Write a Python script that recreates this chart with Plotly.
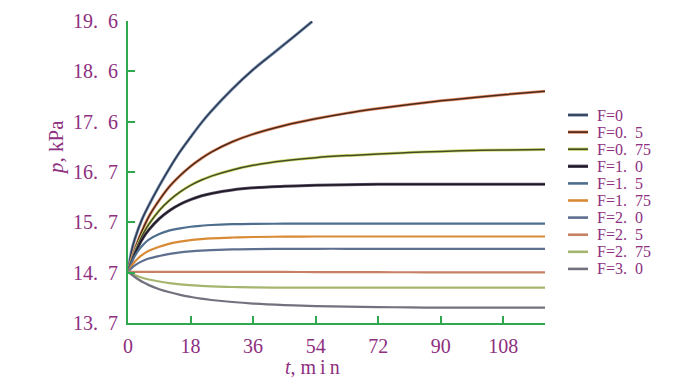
import plotly.graph_objects as go

# ---- data ----
T = [0, 1.5, 3, 4.5, 6, 9, 12, 15, 18, 21, 24, 30, 36, 45, 54, 63, 72, 81, 90, 99, 108, 120]
T0 = [0, 1, 2, 4, 6, 9, 12, 15, 18, 21, 24, 30, 36, 42, 48, 53]

p_F0 = [14.7, 15.1, 15.35, 15.72, 16.0, 16.38, 16.73, 17.05, 17.33, 17.6, 17.84, 18.27, 18.65, 18.98, 19.31, 19.59]
p_F05 = [14.7, 15.05, 15.33, 15.57, 15.78, 16.1, 16.37, 16.58, 16.76, 16.91, 17.04, 17.24, 17.39, 17.56,
         17.69, 17.8, 17.89, 17.97, 18.04, 18.1, 18.16, 18.23]
p_F075 = [14.7, 15.0, 15.25, 15.46, 15.63, 15.9, 16.1, 16.26, 16.39, 16.49, 16.57, 16.69, 16.78, 16.87,
          16.93, 16.97, 17.0, 17.03, 17.05, 17.07, 17.08, 17.09]
p_F10 = [14.7, 14.98, 15.2, 15.38, 15.52, 15.74, 15.9, 16.02, 16.11, 16.18, 16.23, 16.3, 16.34, 16.37,
         16.39, 16.4, 16.41, 16.41, 16.41, 16.41, 16.41, 16.41]
p_F15 = [14.7, 14.95, 15.12, 15.24, 15.33, 15.44, 15.51, 15.55, 15.58, 15.6, 15.615, 15.63, 15.637, 15.64,
         15.64, 15.64, 15.64, 15.64, 15.64, 15.64, 15.64, 15.64]
p_F175 = [14.7, 14.86, 14.97, 15.05, 15.11, 15.19, 15.25, 15.29, 15.32, 15.34, 15.355, 15.37, 15.38, 15.387,
          15.39, 15.39, 15.39, 15.39, 15.39, 15.39, 15.39, 15.39]
p_F20 = [14.7, 14.8, 14.87, 14.92, 14.96, 15.01, 15.05, 15.08, 15.1, 15.115, 15.125, 15.137, 15.143, 15.148,
         15.15, 15.15, 15.15, 15.15, 15.15, 15.15, 15.15, 15.15]
p_F25 = [14.7, 14.7, 14.7, 14.7, 14.7, 14.7, 14.7, 14.7, 14.7, 14.7, 14.7, 14.7, 14.7, 14.698,
         14.695, 14.693, 14.692, 14.691, 14.69, 14.69, 14.69, 14.69]
p_F275 = [14.7, 14.65, 14.61, 14.575, 14.55, 14.51, 14.48, 14.455, 14.44, 14.425, 14.415, 14.403, 14.396, 14.392,
          14.39, 14.39, 14.39, 14.39, 14.39, 14.39, 14.39, 14.39]
p_F30 = [14.7, 14.62, 14.55, 14.49, 14.44, 14.36, 14.3, 14.25, 14.21, 14.175, 14.15, 14.11, 14.08, 14.05,
         14.03, 14.018, 14.01, 14.005, 14.0, 14.0, 14.0, 14.0]

names = ["F=0", "F=0.\u20025", "F=0.\u200275", "F=1.\u20020", "F=1.\u20025", "F=1.\u200275",
         "F=2.\u20020", "F=2.\u20025", "F=2.\u200275", "F=3.\u20020"]
series_t = [T0, T, T, T, T, T, T, T, T, T]
series_p = [p_F0, p_F05, p_F075, p_F10, p_F15, p_F175, p_F20, p_F25, p_F275, p_F30]
core_colors = ["#2e3a50", "#4a2a1c", "#434c24", "#1c1a20", "#4e6e8e", "#d88a35",
               "#5f6f90", "#c88065", "#a5b56e", "#72727f"]
halo_colors = ["#7f97b8", "#e8916a", "#d3dc72", "#5a4d68", None, None, None, None, None, None]

x_ticks = [0, 18, 36, 54, 72, 90, 108]
y_ticktext = ["13.\u20027", "14.\u20027", "15.\u20027", "16.\u20027", "17.\u20026", "18.\u20026", "19.\u20026"]
y_min, y_max = 13.7, 19.6

PURPLE = "#8e2f80"
GREEN = "#2fa84f"
FONT = "Liberation Serif"

fig = go.Figure()
for i, (tt, pp) in enumerate(zip(series_t, series_p)):
    if halo_colors[i]:
        fig.add_trace(go.Scatter(x=tt, y=pp, mode="lines",
                                 line=dict(color=halo_colors[i], width=3.0, shape="spline", smoothing=1.0),
                                 showlegend=False, hoverinfo="skip"))
        fig.add_trace(go.Scatter(x=tt, y=pp, mode="lines", name=names[i],
                                 line=dict(color=core_colors[i], width=1.5, shape="spline", smoothing=1.0),
                                 showlegend=False))
    else:
        fig.add_trace(go.Scatter(x=tt, y=pp, mode="lines", name=names[i],
                                 line=dict(color=core_colors[i], width=2.2, shape="spline", smoothing=1.0),
                                 showlegend=False))

# page offset (body margin) compensation
OFF = 8
W, H = 685 - OFF, 385 - OFF
# target plot-area pixel box in the window
L, R, TOP, BOT = 128, 545, 21, 323

def px_x(px):
    return (px - L) / (R - L)

def px_y(py):
    return (BOT - py) / (BOT - TOP)

# manual legend (compact spacing like the original)
for i, nm in enumerate(names):
    py = 115 + 17.1 * i
    if halo_colors[i]:
        fig.add_shape(type="line", xref="paper", yref="paper", x0=px_x(568), x1=px_x(588), y0=px_y(py), y1=px_y(py),
                      line=dict(color=halo_colors[i], width=3.4))
        fig.add_shape(type="line", xref="paper", yref="paper", x0=px_x(568), x1=px_x(588), y0=px_y(py), y1=px_y(py),
                      line=dict(color=core_colors[i], width=1.7))
    else:
        fig.add_shape(type="line", xref="paper", yref="paper", x0=px_x(568), x1=px_x(588), y0=px_y(py), y1=px_y(py),
                      line=dict(color=core_colors[i], width=2.6))
    fig.add_annotation(text=nm, xref="paper", yref="paper", x=px_x(595), y=px_y(py), xanchor="left", yanchor="middle",
                       showarrow=False, font=dict(family=FONT, size=16, color=PURPLE))

# axis titles
fig.add_annotation(text="<i>p</i>, kPa", xref="paper", yref="paper", x=px_x(56), y=px_y(148), textangle=-90,
                   xanchor="center", yanchor="middle",
                   showarrow=False, font=dict(family=FONT, size=21, color=PURPLE))
fig.add_annotation(text="<i>t</i>, m\u2009i\u2009n", xref="paper", yref="paper", x=px_x(312), y=px_y(367),
                   xanchor="center", yanchor="middle",
                   showarrow=False, font=dict(family=FONT, size=20, color=PURPLE))

step = (y_max - y_min) / 6
fig.update_layout(
    width=W, height=H,
    margin=dict(l=L - OFF, r=685 - R, t=TOP - OFF, b=385 - BOT, autoexpand=False),
    paper_bgcolor="white", plot_bgcolor="white",
    showlegend=False,
    xaxis=dict(range=[0, 120], tickvals=x_ticks, ticktext=[str(v) for v in x_ticks],
               showgrid=False, zeroline=False, showline=True, linecolor=GREEN, linewidth=2,
               ticks="inside", ticklen=7, tickwidth=2, tickcolor=GREEN, ticklabelstandoff=4,
               tickfont=dict(family=FONT, size=20, color=PURPLE)),
    yaxis=dict(range=[y_min, y_max], tickvals=[y_min + k * step for k in range(7)], ticktext=y_ticktext,
               showgrid=False, zeroline=False, showline=True, linecolor=GREEN, linewidth=2,
               ticks="inside", ticklen=7, tickwidth=2, tickcolor=GREEN, ticklabelstandoff=4,
               tickfont=dict(family=FONT, size=20, color=PURPLE)),
)

fig.write_html("out.html")
